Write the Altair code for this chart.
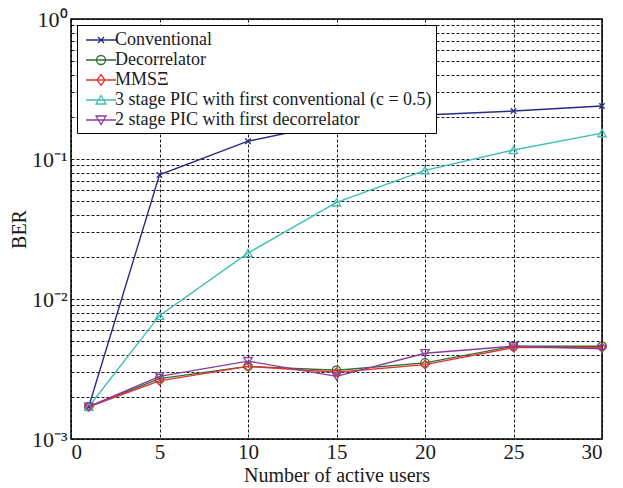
import altair as alt
import pandas as pd

users = [1, 5, 10, 15, 20, 25, 30]
series_names = [
    "Conventional",
    "Decorrelator",
    "MMSΞ",
    "3 stage PIC with first conventional (c = 0.5)",
    "2 stage PIC with first decorrelator",
]
conventional = [0.0017, 0.077, 0.134, 0.182, 0.206, 0.220, 0.239]
decorrelator = [0.0017, 0.0027, 0.0033, 0.0031, 0.0035, 0.0046, 0.0046]
mmse = [0.0017, 0.0026, 0.0033, 0.0030, 0.0034, 0.0045, 0.0045]
pic3 = [0.0017, 0.0076, 0.0213, 0.049, 0.083, 0.116, 0.153]
pic2 = [0.0017, 0.0028, 0.0036, 0.0028, 0.0041, 0.0046, 0.0044]

colors = ["#2a2a86", "#2e6e2e", "#e8332f", "#3fbfb2", "#8a3c9c"]
marker_paths = [
    "M-1,-1L1,1M-1,1L1,-1",
    "circle",
    "diamond",
    "triangle-up",
    "triangle-down",
]
marker_sizes = [30, 70, 70, 70, 70]
# legend glyphs: line stub with marker, shifted right of the symbol centre
legend_paths = [
    "M-0.6,0H2.4M0.6,-0.3L1.2,0.3M0.6,0.3L1.2,-0.3",
    "M-0.6,0H2.4M0.45,0A0.45,0.45,0,1,0,1.35,0A0.45,0.45,0,1,0,0.45,0Z",
    "M-0.6,0H2.4M0.9,-0.55L1.3,0L0.9,0.55L0.5,0Z",
    "M-0.6,0H2.4M0.9,-0.45L1.4,0.4L0.4,0.4Z",
    "M-0.6,0H2.4M0.9,0.45L1.4,-0.4L0.4,-0.4Z",
]

values = [conventional, decorrelator, mmse, pic3, pic2]
rows = []
for name, vals in zip(series_names, values):
    for u, v in zip(users, vals):
        rows.append({"users": u, "BER": v, "series": name})
df = pd.DataFrame(rows)

grid_vals = []
for e in [-3, -2, -1]:
    for m in range(1, 10):
        grid_vals.append(round(m * 10 ** e, 6))
grid_vals.append(1.0)

FONT = "Liberation Serif"
TXT = "#1a1a1a"

x_enc = alt.X(
    "users:Q",
    scale=alt.Scale(domain=[0, 30], nice=False),
    axis=alt.Axis(
        values=[0, 5, 10, 15, 20, 25, 30],
        title="Number of active users",
        grid=True,
        gridDash=[3, 2],
        gridColor="#000000",
        gridOpacity=0.9,
        ticks=False,
        labelPadding=2,
        titlePadding=3,
        domain=False,
        labelFont=FONT,
        labelFontSize=21,
        titleFont=FONT,
        titleFontSize=20,
        titleFontWeight="normal",
        labelColor=TXT,
        titleColor=TXT,
    ),
)
y_enc = alt.Y(
    "BER:Q",
    scale=alt.Scale(type="log", domain=[0.001, 1], nice=False),
    axis=alt.Axis(
        values=grid_vals,
        title="BER",
        grid=True,
        gridDash=[3, 2],
        gridColor="#000000",
        gridOpacity=0.9,
        ticks=False,
        labelPadding=4,
        titlePadding=2,
        domain=False,
        labelExpr="datum.value == 1 ? '10⁰' : abs(datum.value - 0.1) < 1e-9 ? '10⁻¹' : abs(datum.value - 0.01) < 1e-10 ? '10⁻²' : abs(datum.value - 0.001) < 1e-11 ? '10⁻³' : ''",
        labelOverlap=False,
        labelFont=FONT,
        labelFontSize=22,
        titleFont=FONT,
        titleFontSize=20,
        titleFontWeight="normal",
        labelColor=TXT,
        titleColor=TXT,
    ),
)

color_scale = alt.Scale(domain=series_names, range=colors)

line_layers = []
marker_layers = []
for name, col, path, sz in zip(series_names, colors, marker_paths, marker_sizes):
    base = alt.Chart(df).transform_filter(alt.datum.series == name)
    line_layers.append(
        base.mark_line(color=col, strokeWidth=1.4, clip=False).encode(x=x_enc, y=y_enc)
    )
    marker_layers.append(
        base.mark_point(shape=path, color=col, filled=False, size=sz, strokeWidth=1.3, opacity=1, clip=False)
        .encode(x="users:Q", y="BER:Q")
    )

legend_layer = alt.Chart(df).mark_point(filled=False, opacity=0, strokeWidth=1.3).encode(
    x="users:Q",
    y="BER:Q",
    color=alt.Color(
        "series:N",
        scale=color_scale,
        legend=alt.Legend(
            title=None,
            orient="none",
            legendX=6,
            legendY=6,
            strokeColor="#000000",
            fillColor="#ffffff",
            padding=4,
            symbolSize=400,
            symbolOpacity=1,
            symbolStrokeWidth=1.3,
            labelFont=FONT,
            labelFontSize=18,
            labelColor=TXT,
            labelOffset=12,
            rowPadding=0,
            labelLimit=400,
        ),
    ),
    shape=alt.Shape("series:N", scale=alt.Scale(domain=series_names, range=legend_paths)),
)

chart = (
    alt.layer(*line_layers, *marker_layers, legend_layer)
    .properties(width=531, height=420, padding={"left": 1, "top": 0, "right": 5, "bottom": 0})
    .configure_view(stroke="#000000", strokeWidth=1.5)
)

chart.save("out.html", embed_options={"renderer": "svg", "actions": False})
